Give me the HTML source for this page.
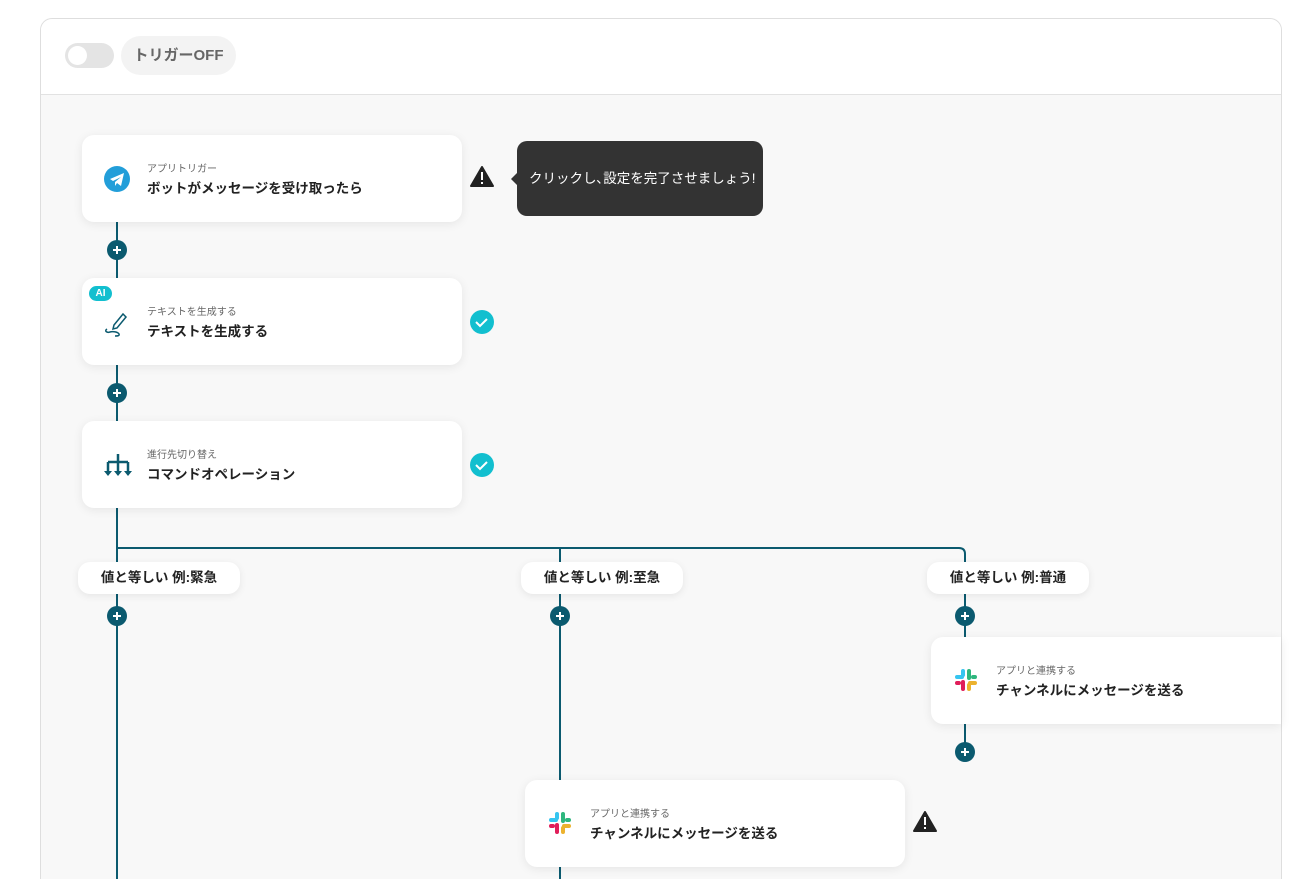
<!DOCTYPE html>
<html><head><meta charset="utf-8">
<style>
*{margin:0;padding:0;box-sizing:border-box}
html,body{width:1312px;height:879px;overflow:hidden}
body{background:#fff;font-family:"Liberation Sans","Noto Sans CJK JP",sans-serif;position:relative}
.frame{position:absolute;left:40px;top:18px;width:1242px;height:861px;border:1px solid #dedede;border-bottom:none;border-radius:12px 12px 0 0;background:#f8f8f8;overflow:hidden}
.head{position:absolute;left:0;top:0;width:100%;height:76px;background:#fff;border-bottom:1px solid #e2e2e2}
.tog{position:absolute;left:24px;top:24px;width:49px;height:25px;border-radius:13px;background:#e4e4e4}
.tog::after{content:"";position:absolute;left:3px;top:3px;width:19px;height:19px;border-radius:50%;background:#fff}
.tpill{position:absolute;left:80px;top:17px;width:115px;height:39px;border-radius:20px;background:#f3f3f3;color:#666;font-weight:bold;font-size:15px;line-height:39px;text-align:center}
.card{position:absolute;background:#fff;border-radius:12px;box-shadow:0 2px 10px rgba(0,0,0,.08)}
.card .sub{position:absolute;left:65px;top:25px;font-size:10px;color:#666}
.card .tit{position:absolute;left:65px;top:42px;font-size:13.5px;font-weight:bold;color:#222}
.card svg{position:absolute;left:22px;top:31px}
.pill{position:absolute;height:32px;width:162px;background:#fff;border-radius:12px;box-shadow:0 2px 8px rgba(0,0,0,.08);font-size:13.5px;font-weight:bold;color:#222;line-height:32px;text-align:center}
.tip{position:absolute;left:517px;top:141px;width:246px;height:75px;background:#333;border-radius:10px;color:#fff;font-size:13.5px;line-height:75px;padding-left:12px}
.tip::before{content:"";position:absolute;left:-6px;top:32px;border:6px solid transparent;border-right-color:#333;border-left:0}
.ai{position:absolute;left:89px;top:286px;width:23px;height:15px;border-radius:8px;background:#12bfcf;color:#fff;font-size:10px;font-weight:bold;text-align:center;line-height:15px}
</style></head><body>
<div class="frame">
<div class="head"><div class="tog"></div><div class="tpill">トリガーOFF</div></div>
</div>
<svg width="1312" height="879" style="position:absolute;left:0;top:0">
<g stroke="#0b5a6f" stroke-width="2" fill="none">
<line x1="117" y1="222" x2="117" y2="879"/>
<path d="M117 548 H959 Q965 548 965 554 V637"/>
<line x1="560" y1="548" x2="560" y2="879"/>
<line x1="965" y1="724" x2="965" y2="752"/>
</g>
<g fill="#0b5a6f">
<circle cx="117" cy="250" r="10"/><circle cx="117" cy="393" r="10"/>
<circle cx="117" cy="616" r="10"/><circle cx="560" cy="616" r="10"/>
<circle cx="965" cy="616" r="10"/><circle cx="965" cy="752" r="10"/>
</g>
<g stroke="#fff" stroke-width="2">
<path d="M113 250h8M117 246v8M113 393h8M117 389v8M113 616h8M117 612v8M556 616h8M560 612v8M961 616h8M965 612v8M961 752h8M965 748v8"/>
</g>
<g>
<path d="M482 167 L493 186 H471 Z" fill="#222" stroke="#222" stroke-width="2" stroke-linejoin="round"/>
<rect x="481" y="172" width="2" height="8" fill="#fff"/><rect x="481" y="182" width="2" height="2" fill="#fff"/>
<path d="M925 812 L936 831 H914 Z" fill="#222" stroke="#222" stroke-width="2" stroke-linejoin="round"/>
<rect x="924" y="817" width="2" height="8" fill="#fff"/><rect x="924" y="827" width="2" height="2" fill="#fff"/>
<circle cx="482" cy="322" r="12" fill="#12bfcf"/><path d="M476 322l4 4 7-7" stroke="#fff" stroke-width="2" fill="none"/>
<circle cx="482" cy="465" r="12" fill="#12bfcf"/><path d="M476 465l4 4 7-7" stroke="#fff" stroke-width="2" fill="none"/>
</g>
</svg>
<div class="card" style="left:82px;top:135px;width:380px;height:87px">
<svg width="26" height="26"><circle cx="13" cy="13" r="13" fill="#229ed9"/><path d="M6 13l14-6-3 13-4-3-2 3v-4l6-5-8 4z" fill="#fff"/></svg>
<div class="sub">アプリトリガー</div><div class="tit">ボットがメッセージを受け取ったら</div></div>
<div class="card" style="left:82px;top:278px;width:380px;height:87px">
<svg width="26" height="28"><path d="M10 16l9-11 3 3-9 11-4 1z M3 20c-3 2 0 4 3 3s8 0 9 2-2 2-4 2" stroke="#0b5a6f" stroke-width="1.5" fill="none"/></svg>
<div class="sub">テキストを生成する</div><div class="tit">テキストを生成する</div></div>
<div class="ai">AI</div>
<div class="card" style="left:82px;top:421px;width:380px;height:87px">
<svg width="28" height="26"><g stroke="#0b5a6f" stroke-width="2.5" fill="none"><path d="M14 2v8M4 10h20M4 10v12M14 10v12M24 10v12"/></g><g fill="#0b5a6f"><path d="M0 19h8l-4 5zM10 19h8l-4 5zM20 19h8l-4 5z"/></g></svg>
<div class="sub">進行先切り替え</div><div class="tit">コマンドオペレーション</div></div>
<div class="pill" style="left:78px;top:562px">値と等しい 例:緊急</div>
<div class="pill" style="left:521px;top:562px">値と等しい 例:至急</div>
<div class="pill" style="left:927px;top:562px">値と等しい 例:普通</div>
<div class="card" style="left:931px;top:637px;width:350px;height:87px;border-radius:12px 0 0 12px">
<svg width="24" height="24" style="left:23px"><g stroke-width="4" stroke-linecap="round"><path d="M9 3v4M3 9h5" stroke="#36c5f0"/><path d="M15 3v7M21 9h-2" stroke="#2eb67d"/><path d="M15 21v-4M21 15h-5" stroke="#ecb22e"/><path d="M9 21v-7M3 15h2" stroke="#e01e5a"/></g></svg>
<div class="sub">アプリと連携する</div><div class="tit">チャンネルにメッセージを送る</div></div>
<div class="card" style="left:525px;top:780px;width:380px;height:87px">
<svg width="24" height="24" style="left:23px"><g stroke-width="4" stroke-linecap="round"><path d="M9 3v4M3 9h5" stroke="#36c5f0"/><path d="M15 3v7M21 9h-2" stroke="#2eb67d"/><path d="M15 21v-4M21 15h-5" stroke="#ecb22e"/><path d="M9 21v-7M3 15h2" stroke="#e01e5a"/></g></svg>
<div class="sub">アプリと連携する</div><div class="tit">チャンネルにメッセージを送る</div></div>
<div class="tip">クリックし､設定を完了させましょう!</div>
</body></html>
